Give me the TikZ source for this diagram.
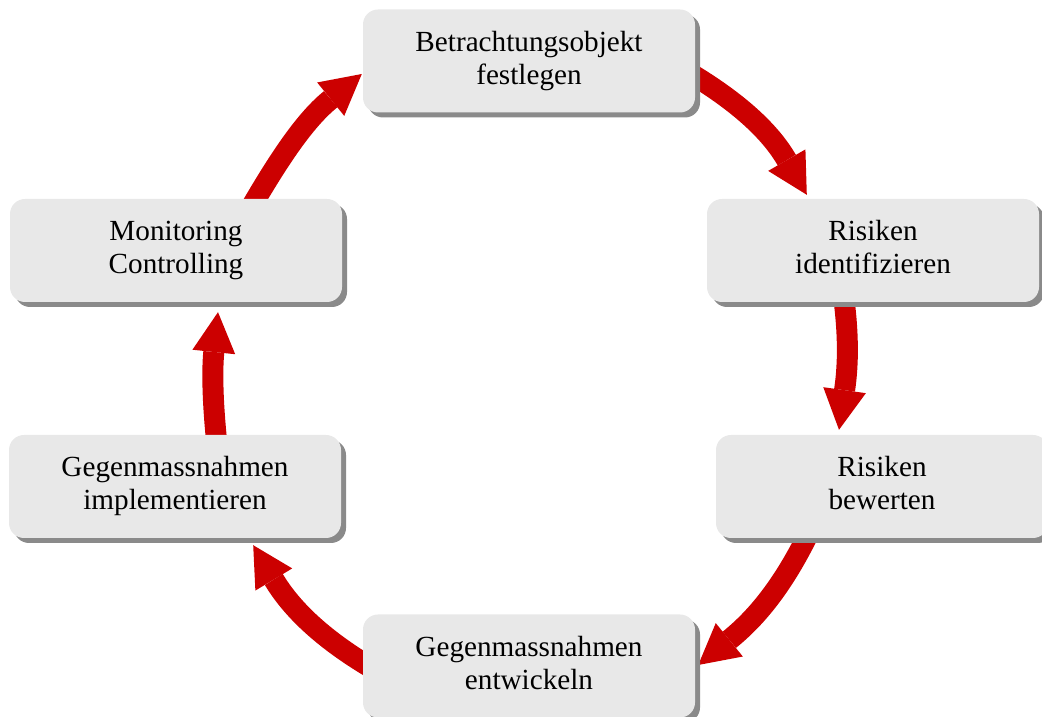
\documentclass[tikz,border=0pt]{standalone}
\usepackage{fontspec}
\setmainfont{Liberation Serif}
\usetikzlibrary{arrows.meta,shadows,backgrounds}
\definecolor{boxgray}{HTML}{E8E8E8}
\definecolor{shadowgray}{HTML}{8A8A8A}
\definecolor{arrowred}{HTML}{CC0000}
\begin{document}
\begin{tikzpicture}[x=1pt,y=1pt,
  stepbox/.style={rounded corners=15pt, fill=boxgray, minimum width=332pt,
    minimum height=103pt, inner sep=0pt, align=center,
    font=\fontsize{29.2}{33}\selectfont,
    drop shadow={shadow xshift=5pt, shadow yshift=-5pt, opacity=1, fill=shadowgray}},
  cyc/.style={line width=21pt, draw=arrowred,
    -{Triangle[length=40pt,width=43pt,line width=0pt]}}]
\useasboundingbox (0,0) rectangle (1042,717);
\node[stepbox] (obj) at (529,656) {Betrachtungsobjekt\\festlegen\vphantom{g}};
\node[stepbox] (ru) at (873,466.5) {Risiken\\identifizieren\vphantom{g}};
\node[stepbox] (rl) at (882,230.5) {Risiken\\bewerten\vphantom{g}};
\node[stepbox] (bot) at (529,51) {Gegenmassnahmen\\entwickeln\vphantom{g}};
\node[stepbox] (ll) at (175,230.5) {Gegenmassnahmen\\implementieren\vphantom{g}};
\node[stepbox] (lu) at (176,466.5) {Monitoring\\Controlling\vphantom{g}};
\begin{scope}[on background layer]
\draw[cyc] ([xshift=-14pt,yshift=-7pt]obj.east) to[out=-30,in=120] ([xshift=100pt,yshift=4pt]ru.north west);
\draw[cyc] ([xshift=-30pt,yshift=10pt]ru.south) to[out=-82,in=82] ([xshift=-43pt,yshift=5pt]rl.north);
\draw[cyc] ([xshift=-69pt,yshift=14pt]rl.south) to[out=-115,in=39] ([xshift=3pt,yshift=1pt]bot.east);
\draw[cyc] ([xshift=14pt,yshift=-5pt]bot.west) to[out=150,in=-59] ([xshift=-88pt,yshift=-7pt]ll.south east);
\draw[cyc] ([xshift=42pt,yshift=-10pt]ll.north) to[out=96,in=-96] ([xshift=42pt,yshift=-10pt]lu.south);
\draw[cyc] ([xshift=73pt,yshift=-12pt]lu.north) to[out=60,in=-141] ([xshift=-1pt,yshift=-13pt]obj.west);
\end{scope}
\end{tikzpicture}
\end{document}
